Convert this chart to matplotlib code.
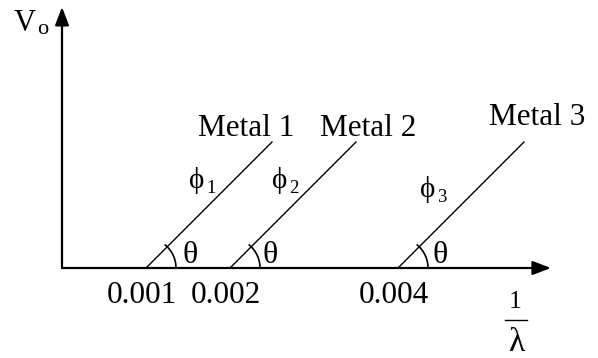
import numpy as np
import matplotlib
matplotlib.use('Agg')
from matplotlib import pyplot as plt

plt.rcParams['font.family'] = ['Liberation Serif', 'DejaVu Serif']

# stopping potential vs 1/lambda, one line per metal
thresholds = [0.001, 0.002, 0.004]
metals = ['Metal 1', 'Metal 2', 'Metal 3']
phi_subs = ['1', '2', '3']
tick_labels = ['0.001', '0.002', '0.004']
run = 0.0015      # length of each line along 1/lambda
slope = 1000.0    # same slope for every metal

# data units per pixel (axes fill the figure)
px_x = 1 / 84e3
px_y = 1 / 84

fig = plt.figure(figsize=(5.98, 3.58), dpi=100)
ax = fig.add_axes([0, 0, 1, 1])
ax.set_xlim(-62 * px_x, 536 * px_x)
ax.set_ylim(-90 * px_y, 268 * px_y)
ax.axis('off')

x_tip = 0.00582
y_tip = 3.107

# axes with arrow heads
arr = dict(arrowstyle='-|>,head_length=1.1,head_width=0.42', mutation_scale=10,
           lw=1.6, color='k', shrinkA=0, shrinkB=0)
ax.annotate('', xy=(x_tip, 0), xytext=(0, 0), arrowprops=arr)
ax.annotate('', xy=(0, y_tip), xytext=(0, 0), arrowprops=arr)

lab_off = [(-26, 6), (12, 6), (13, 17)]
phi_off = [(43, 80), (42, 80), (22, 71)]
theta_off = [(37, 5), (32, 5), (35, 5)]

t = np.linspace(0, np.radians(50), 30)
r = 30  # angle mark radius in pixels

for i, x0 in enumerate(thresholds):
    xs = np.array([x0, x0 + run])
    ax.plot(xs, slope * (xs - x0), color='k', lw=1.0)
    ax.plot(x0 + r * px_x * np.cos(t), r * px_y * np.sin(t), color='k', lw=1.2)
    ax.annotate(metals[i], xy=(x0 + run, slope * run), xytext=lab_off[i],
                textcoords='offset pixels', ha='center', va='baseline', fontsize=22.5)
    ax.annotate('\u03d5', xy=(x0, 0), xytext=phi_off[i], textcoords='offset pixels',
                ha='left', va='baseline', fontsize=21)
    ax.annotate(phi_subs[i], xy=(x0, 0),
                xytext=(phi_off[i][0] + 17, phi_off[i][1] - 5),
                textcoords='offset pixels', ha='left', va='baseline', fontsize=13.5)
    ax.annotate('\u03b8', xy=(x0, 0), xytext=theta_off[i], textcoords='offset pixels',
                ha='left', va='baseline', fontsize=23)
    ax.annotate(tick_labels[i], xy=(x0, 0), xytext=(31, -35), textcoords='offset pixels',
                ha='right', va='baseline', fontsize=22.5)

# axis titles
ax.annotate('V', xy=(0, y_tip), xytext=(-26, -24), textcoords='offset pixels',
            ha='right', va='baseline', fontsize=22)
ax.annotate('o', xy=(0, y_tip), xytext=(-25, -27), textcoords='offset pixels',
            ha='left', va='baseline', fontsize=16)
ax.annotate('1', xy=(x_tip, 0), xytext=(-36, -40), textcoords='offset pixels',
            ha='center', va='baseline', fontsize=18.5)
ax.plot([x_tip - 46 * px_x, x_tip - 24 * px_x], [-52 * px_y, -52 * px_y],
        color='k', lw=1.0)
ax.annotate('\u03bb', xy=(x_tip, 0), xytext=(-35, -83), textcoords='offset pixels',
            ha='center', va='baseline', fontsize=24)

fig.savefig('out.png', dpi=100)
